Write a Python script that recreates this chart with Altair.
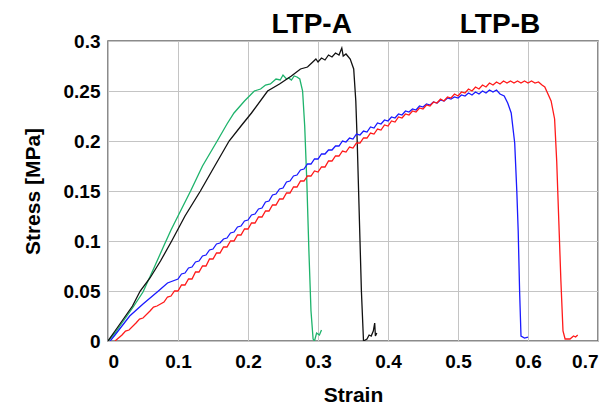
import altair as alt
import pandas as pd

green_x = [0.000, 0.010, 0.020, 0.036, 0.050, 0.065, 0.079, 0.090, 0.100, 0.118, 0.135, 0.156, 0.170, 0.180,
           0.195, 0.209, 0.218, 0.225, 0.232, 0.240, 0.246, 0.250, 0.255, 0.258, 0.262, 0.266, 0.270, 0.274,
           0.278, 0.281, 0.284, 0.287, 0.290, 0.293, 0.295, 0.298, 0.302, 0.305]
green_y = [0.000, 0.008, 0.018, 0.034, 0.049, 0.072, 0.094, 0.111, 0.125, 0.150, 0.175, 0.200, 0.217, 0.228,
           0.240, 0.250, 0.252, 0.256, 0.257, 0.262, 0.261, 0.266, 0.262, 0.263, 0.261, 0.265, 0.264, 0.262,
           0.250, 0.215, 0.160, 0.090, 0.030, 0.002, 0.000, 0.008, 0.006, 0.011]

black_x = [0.000, 0.010, 0.022, 0.035, 0.046, 0.060, 0.075, 0.091, 0.110, 0.132, 0.150, 0.173, 0.190, 0.205,
           0.228, 0.245, 0.262, 0.275, 0.285, 0.291, 0.297, 0.300, 0.305, 0.310, 0.315, 0.320, 0.325, 0.330,
           0.334, 0.336, 0.340, 0.346, 0.351, 0.354, 0.356, 0.358, 0.360, 0.362, 0.365, 0.370, 0.373, 0.376,
           0.379, 0.381, 0.382, 0.384]
black_y = [0.000, 0.010, 0.022, 0.035, 0.050, 0.063, 0.080, 0.100, 0.125, 0.150, 0.172, 0.200, 0.215, 0.228,
           0.250, 0.257, 0.265, 0.272, 0.274, 0.278, 0.282, 0.279, 0.283, 0.281, 0.286, 0.284, 0.288, 0.286,
           0.293, 0.285, 0.287, 0.282, 0.272, 0.240, 0.200, 0.150, 0.100, 0.050, 0.000, 0.002, 0.006, 0.005,
           0.010, 0.018, 0.005, 0.008]

blue_x = [0.003, 0.010, 0.031, 0.050, 0.072, 0.085,
          0.100, 0.105, 0.110, 0.115, 0.120, 0.125, 0.130, 0.135, 0.140, 0.145, 0.150, 0.155, 0.160, 0.165,
          0.170, 0.175, 0.180, 0.185, 0.190, 0.195, 0.200, 0.205, 0.210, 0.215, 0.220, 0.225, 0.230, 0.235,
          0.240, 0.245, 0.250, 0.255, 0.260, 0.265, 0.270, 0.275, 0.280, 0.285, 0.290, 0.295, 0.300, 0.305,
          0.310, 0.315, 0.320, 0.325, 0.330, 0.335, 0.340, 0.345, 0.350, 0.355, 0.360, 0.365, 0.370, 0.375,
          0.380, 0.385, 0.390, 0.395, 0.400, 0.405, 0.410, 0.415, 0.420, 0.425, 0.430, 0.435, 0.440, 0.445,
          0.450, 0.455, 0.460, 0.465, 0.470, 0.475, 0.480, 0.485, 0.490, 0.495, 0.500, 0.505, 0.510, 0.515,
          0.520, 0.525, 0.530, 0.535, 0.540, 0.545, 0.550, 0.555, 0.560,
          0.566, 0.571, 0.576, 0.581, 0.584, 0.586, 0.588, 0.590, 0.595, 0.600]
blue_y = [0.000, 0.006, 0.025, 0.037, 0.050, 0.058,
          0.062, 0.067, 0.068, 0.073, 0.074, 0.079, 0.080, 0.085, 0.086, 0.091, 0.092, 0.097, 0.098, 0.102,
          0.103, 0.108, 0.109, 0.114, 0.115, 0.120, 0.121, 0.126, 0.127, 0.132, 0.133, 0.139, 0.140, 0.146,
          0.147, 0.152, 0.153, 0.159, 0.160, 0.165, 0.166, 0.171, 0.172, 0.177, 0.177, 0.182, 0.182, 0.187,
          0.187, 0.191, 0.191, 0.195, 0.195, 0.200, 0.199, 0.203, 0.202, 0.207, 0.206, 0.210, 0.209, 0.214,
          0.213, 0.218, 0.217, 0.221, 0.220, 0.224, 0.223, 0.227, 0.226, 0.230, 0.229, 0.232, 0.231, 0.235,
          0.234, 0.237, 0.236, 0.239, 0.238, 0.241, 0.240, 0.243, 0.242, 0.244, 0.243, 0.246, 0.245, 0.248,
          0.246, 0.249, 0.247, 0.250, 0.248, 0.251, 0.249, 0.251, 0.247,
          0.245, 0.238, 0.228, 0.198, 0.150, 0.110, 0.050, 0.005, 0.003, 0.004]

red_x = [0.010, 0.020, 0.025, 0.030, 0.040, 0.045, 0.050, 0.060, 0.065, 0.070, 0.080, 0.085, 0.090, 0.095,
         0.100, 0.105, 0.110, 0.115, 0.120, 0.125, 0.130, 0.135, 0.140, 0.145, 0.150, 0.155, 0.160, 0.165,
         0.170, 0.175, 0.180, 0.185, 0.190, 0.195, 0.200, 0.205, 0.210, 0.215, 0.220, 0.225, 0.230, 0.235,
         0.240, 0.245, 0.250, 0.255, 0.260, 0.265, 0.270, 0.275, 0.280, 0.285, 0.290, 0.295, 0.300, 0.305,
         0.310, 0.315, 0.320, 0.325, 0.330, 0.335, 0.340, 0.345, 0.350, 0.355, 0.360, 0.365, 0.370, 0.375,
         0.380, 0.385, 0.390, 0.395, 0.400, 0.405, 0.410, 0.415, 0.420, 0.425, 0.430, 0.435, 0.440, 0.445,
         0.450, 0.455, 0.460, 0.465, 0.470, 0.475, 0.480, 0.485, 0.490, 0.495, 0.500, 0.505, 0.510, 0.515,
         0.520, 0.525, 0.530, 0.535, 0.540, 0.545, 0.550, 0.555, 0.560, 0.565, 0.570, 0.575, 0.580, 0.585,
         0.590, 0.595, 0.600, 0.605, 0.610, 0.615, 0.620,
         0.624, 0.633, 0.638, 0.641, 0.644, 0.647, 0.650, 0.653, 0.660, 0.665, 0.668, 0.671]
red_y = [0.000, 0.006, 0.010, 0.011, 0.018, 0.022, 0.023, 0.030, 0.034, 0.035, 0.039, 0.044, 0.045, 0.050,
         0.050, 0.056, 0.056, 0.062, 0.062, 0.069, 0.069, 0.075, 0.075, 0.082, 0.082, 0.088, 0.088, 0.094,
         0.094, 0.100, 0.100, 0.106, 0.106, 0.112, 0.112, 0.118, 0.118, 0.124, 0.124, 0.130, 0.130, 0.136,
         0.136, 0.142, 0.142, 0.148, 0.148, 0.154, 0.154, 0.160, 0.160, 0.165, 0.165, 0.170, 0.169, 0.174,
         0.174, 0.180, 0.180, 0.185, 0.185, 0.190, 0.189, 0.194, 0.193, 0.198, 0.198, 0.203, 0.203, 0.208,
         0.207, 0.212, 0.211, 0.216, 0.215, 0.220, 0.219, 0.224, 0.223, 0.227, 0.226, 0.230, 0.229, 0.233,
         0.232, 0.236, 0.235, 0.239, 0.238, 0.242, 0.240, 0.244, 0.243, 0.247, 0.245, 0.249, 0.248, 0.252,
         0.250, 0.254, 0.252, 0.256, 0.254, 0.258, 0.256, 0.259, 0.257, 0.260, 0.258, 0.260, 0.258, 0.260,
         0.258, 0.260, 0.258, 0.260, 0.258, 0.259, 0.256,
         0.254, 0.240, 0.222, 0.180, 0.120, 0.060, 0.010, 0.002, 0.002, 0.005, 0.004, 0.006]

series_names = ["A1", "A2", "B1", "B2"]
series_colors = ["#1db36b", "#111111", "#1a1aff", "#ff1a1a"]

title_labels = ["LTP-A", "LTP-B"]
title_x = [0.291, 0.560]

rows = []
for name, xs, ys in zip(series_names, [green_x, black_x, blue_x, red_x], [green_y, black_y, blue_y, red_y]):
    for i, (a, b) in enumerate(zip(xs, ys)):
        rows.append({"series": name, "strain": a, "stress": b, "i": i})
df = pd.DataFrame(rows)
tdf = pd.DataFrame({"label": title_labels, "strain": title_x})

FONT = "Liberation Sans"

xscale = alt.Scale(domain=[0, 0.7], nice=False)
yscale = alt.Scale(domain=[0, 0.3], nice=False)

lines = alt.Chart(df).mark_line(strokeWidth=1.3, clip=True).encode(
    x=alt.X("strain:Q", scale=xscale, title="Strain",
            axis=alt.Axis(values=[0, 0.1, 0.2, 0.3, 0.4, 0.5, 0.6, 0.7], format="~g",
                          ticks=False, domain=False, labelPadding=11, titlePadding=13)),
    y=alt.Y("stress:Q", scale=yscale, title="Stress [MPa]",
            axis=alt.Axis(values=[0, 0.05, 0.1, 0.15, 0.2, 0.25, 0.3], format="~g",
                          ticks=False, domain=False, labelPadding=8, titlePadding=20)),
    color=alt.Color("series:N", scale=alt.Scale(domain=series_names, range=series_colors), legend=None),
    order="i:Q",
)

titles = alt.Chart(tdf).mark_text(font=FONT, fontSize=28, fontWeight="bold", color="black",
                                  baseline="middle", align="center").encode(
    x=alt.X("strain:Q", scale=xscale),
    y=alt.value(-16),
    text="label:N",
)

chart = alt.layer(lines, titles).properties(
    width=490, height=300,
    autosize=alt.AutoSizeParams(type="none"),
    padding={"left": 100, "top": 33, "right": 10, "bottom": 65},
).configure_view(stroke="#666666", strokeWidth=1.5).configure_axis(
    labelFont=FONT, titleFont=FONT, labelFontSize=19, titleFontSize=21,
    labelFontWeight="bold", titleFontWeight="bold", labelColor="black", titleColor="black",
    gridColor="#c4c4c4", gridWidth=1,
)

chart.save("out.html", embed_options={"renderer": "svg", "actions": False})
